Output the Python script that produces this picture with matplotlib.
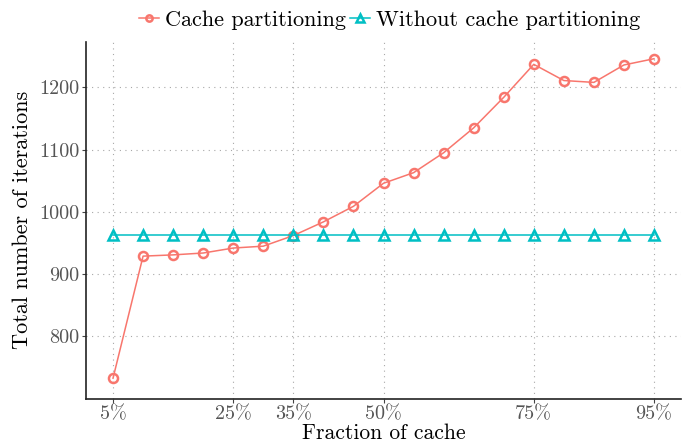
import matplotlib
matplotlib.use("Agg")
import matplotlib.pyplot as plt

fractions = [5, 10, 15, 20, 25, 30, 35, 40, 45, 50, 55, 60, 65, 70, 75, 80, 85, 90, 95]
with_partitioning = [733, 929, 931, 934, 942, 945, 962, 984, 1009, 1046, 1063, 1095,
                     1135, 1184, 1237, 1211, 1208, 1236, 1246]
without_partitioning = [963] * len(fractions)

x_ticks = [5, 25, 35, 50, 75, 95]
x_tick_labels = ["5%", "25%", "35%", "50%", "75%", "95%"]
y_ticks = [800, 900, 1000, 1100, 1200]

red = "#F8766D"
teal = "#00BFC4"

plt.rcParams["font.family"] = ["cmr10", "DejaVu Serif"]
plt.rcParams["mathtext.fontset"] = "cm"
plt.rcParams["axes.unicode_minus"] = False

fig, ax = plt.subplots(figsize=(6.9, 4.46), dpi=100)
fig.subplots_adjust(left=0.1246, right=0.987, top=0.906, bottom=0.106)

ax.plot(fractions, with_partitioning, color=red, lw=1.1, marker="o", ms=6.5,
        mfc="none", mec=red, mew=1.8, label="Cache partitioning", zorder=3)
ax.plot(fractions, without_partitioning, color=teal, lw=1.1, marker="^", ms=7.5,
        mfc="none", mec=teal, mew=1.8, label="Without cache partitioning", zorder=3)

ax.set_xlim(0.5, 99.5)
ax.set_ylim(700, 1273)
ax.set_xticks(x_ticks)
ax.set_xticklabels(x_tick_labels)
ax.set_yticks(y_ticks)

ax.grid(True, linestyle=(0, (1, 4)), color="#a8a8a8", lw=0.8)
ax.set_axisbelow(True)
for side in ["top", "right"]:
    ax.spines[side].set_visible(False)
for side in ["left", "bottom"]:
    ax.spines[side].set_linewidth(1.2)
    ax.spines[side].set_color("#222222")
ax.tick_params(length=3, width=0.8, color="#444444", labelsize=14.5,
               labelcolor="#555555", pad=2)

ax.set_xlabel("Fraction of cache", fontsize=15.5, labelpad=0)
ax.set_ylabel("Total number of iterations", fontsize=16, labelpad=5)

ax.legend(loc="lower center", bbox_to_anchor=(0.51, 1.0), ncol=2, frameon=False,
          fontsize=16, handlelength=0.9, handletextpad=0.25, columnspacing=0.2,
          borderaxespad=0.15, markerscale=0.7)

fig.savefig("out.png", dpi=100)
